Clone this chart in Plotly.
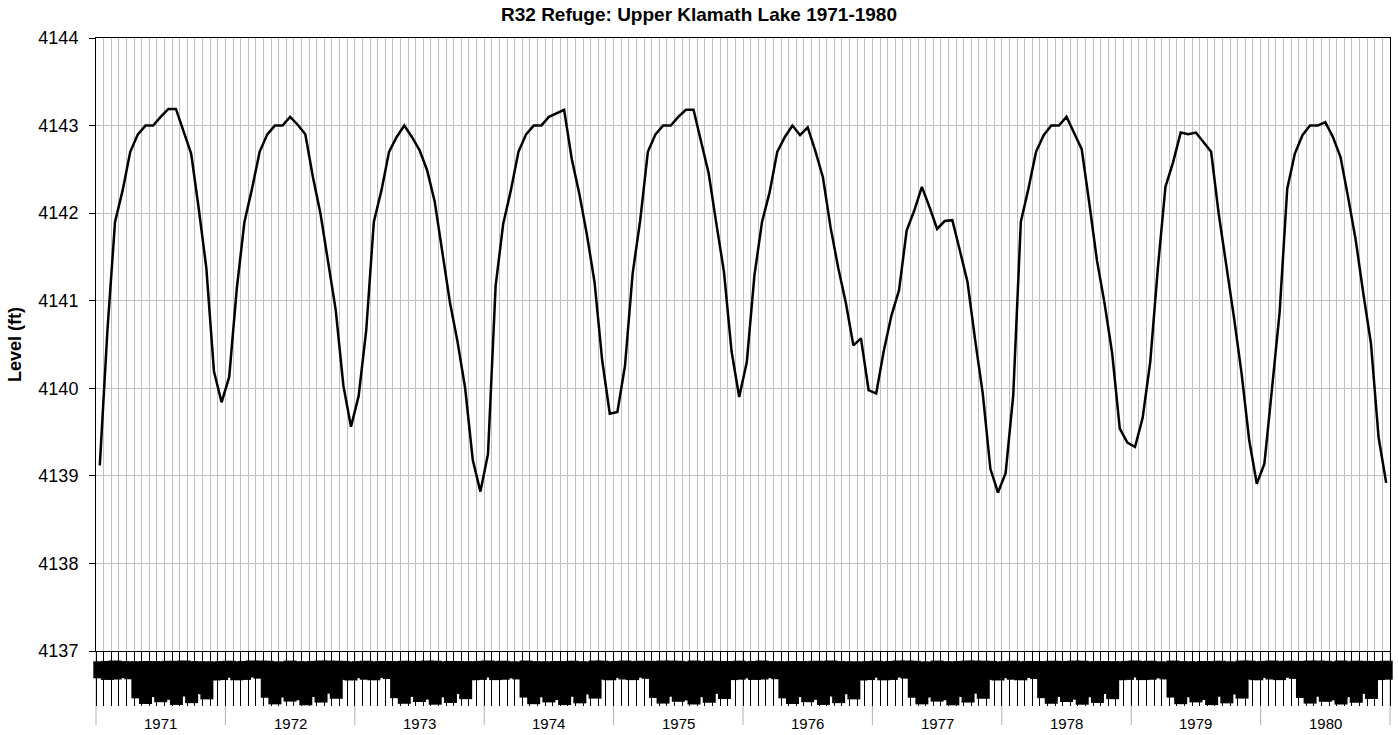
'''
    Upper Klamath Lake level, R32 refuge run, water years 1971-1980.
    Line chart with an Excel-style two level category axis.
'''

import plotly.graph_objects as go

FONT = 'Liberation Sans, Arial, sans-serif'

# model time steps of a water year (Oct - Sep)
steps = ['Oct', 'Nov', 'Dec', 'Jan', 'Feb',
         'Mar1-15', 'Mar16-31', 'Apr1-15', 'Apr16-30', 'May1-15', 'May16-31',
         'Jun1-15', 'Jun16-30', 'Jul1-15', 'Jul16-31', 'Aug', 'Sep']

years = ['1971', '1972', '1973', '1974', '1975',
         '1976', '1977', '1978', '1979', '1980']

# lake level (ft) per time step
wy1971 = [4139.12, 4140.66, 4141.90, 4142.26, 4142.70, 4142.90, 4143.00, 4143.00, 4143.10,
          4143.19, 4143.19, 4142.93, 4142.68, 4142.05, 4141.37, 4140.19, 4139.84]
wy1972 = [4140.13, 4141.14, 4141.90, 4142.28, 4142.70, 4142.90, 4143.00, 4143.00, 4143.10,
          4143.01, 4142.90, 4142.41, 4141.99, 4141.46, 4140.89, 4140.03, 4139.56]
wy1973 = [4139.91, 4140.66, 4141.90, 4142.26, 4142.70, 4142.87, 4143.00, 4142.87, 4142.72,
          4142.49, 4142.13, 4141.57, 4140.98, 4140.53, 4140.00, 4139.18, 4138.82]
wy1974 = [4139.25, 4141.17, 4141.88, 4142.26, 4142.70, 4142.90, 4143.00, 4143.00, 4143.10,
          4143.14, 4143.18, 4142.62, 4142.22, 4141.75, 4141.21, 4140.32, 4139.71]
wy1975 = [4139.73, 4140.26, 4141.31, 4141.92, 4142.70, 4142.90, 4143.00, 4143.00, 4143.10,
          4143.18, 4143.18, 4142.83, 4142.45, 4141.88, 4141.33, 4140.42, 4139.90]
wy1976 = [4140.30, 4141.29, 4141.90, 4142.24, 4142.70, 4142.87, 4143.00, 4142.89, 4142.98,
          4142.71, 4142.41, 4141.84, 4141.38, 4140.98, 4140.49, 4140.57, 4139.98]
wy1977 = [4139.94, 4140.43, 4140.83, 4141.12, 4141.80, 4142.03, 4142.30, 4142.07, 4141.82,
          4141.91, 4141.92, 4141.57, 4141.21, 4140.55, 4139.94, 4139.08, 4138.81]
wy1978 = [4139.03, 4139.92, 4141.90, 4142.28, 4142.70, 4142.89, 4143.00, 4143.00, 4143.10,
          4142.92, 4142.73, 4142.11, 4141.46, 4140.97, 4140.40, 4139.54, 4139.38]
wy1979 = [4139.33, 4139.66, 4140.30, 4141.37, 4142.30, 4142.58, 4142.92, 4142.90, 4142.92,
          4142.81, 4142.70, 4141.99, 4141.42, 4140.81, 4140.17, 4139.41, 4138.91]
wy1980 = [4139.14, 4140.00, 4140.87, 4142.28, 4142.68, 4142.89, 4143.00, 4143.00, 4143.04,
          4142.87, 4142.64, 4142.18, 4141.69, 4141.08, 4140.51, 4139.44, 4138.92]

levels = (wy1971 + wy1972 + wy1973 + wy1974 + wy1975
          + wy1976 + wy1977 + wy1978 + wy1979 + wy1980)
categories = [s + ' ' + y for y in years for s in steps]

y_ticks = [4137, 4138, 4139, 4140, 4141, 4142, 4143, 4144]


fig = go.Figure()
fig.add_trace(go.Scatter(
    x=categories,
    y=levels,
    mode='lines',
    line=dict(color='black', width=2.5),
    hovertemplate='%{x}<br>%{y:.2f} ft<extra></extra>'
))

# inner level of the category axis: rotated step labels, packed so tight
# that they merge into one black block, as in the original chart
annotations = []
for cat, step in zip(categories, steps * len(years)):
    annotations.append(dict(
        x=cat, xref='x', y=0, yref='paper', yanchor='top', yshift=-10,
        text=step, textangle=-90, showarrow=False,
        bgcolor='black', borderpad=1, borderwidth=0,
        font=dict(family=FONT, size=9.5, color='black')
    ))

# outer level: the water year under the middle step of each group
mid = len(steps) // 2
for k, yr in enumerate(years):
    annotations.append(dict(
        x=categories[k * len(steps) + mid], xref='x', y=0, yref='paper',
        yanchor='middle', yshift=-72, text=yr, showarrow=False,
        font=dict(family=FONT, size=15, color='black')
    ))

# year separators hanging below the axis
shapes = []
for k in range(1, len(years)):
    b = k * len(steps) - 0.5
    shapes.append(dict(type='line', xref='x', x0=b, x1=b,
                       yref='paper', ysizemode='pixel', yanchor=0, y0=0, y1=-74,
                       line=dict(color='black', width=1)))
for edge in (0, 1):
    shapes.append(dict(type='line', xref='x domain', x0=edge, x1=edge,
                       yref='paper', ysizemode='pixel', yanchor=0, y0=0, y1=-74,
                       line=dict(color='black', width=1)))

fig.update_layout(
    template='simple_white',
    width=1398, height=735,
    margin=dict(l=96, r=8, t=38, b=84),
    paper_bgcolor='white', plot_bgcolor='white',
    showlegend=False,
    dragmode=False,
    font=dict(family=FONT, color='black'),
    title=dict(text='<b>R32 Refuge: Upper Klamath Lake 1971-1980</b>',
               x=0.5, xref='container', xanchor='center',
               y=0.98, yanchor='middle', font=dict(size=19, color='black')),
    annotations=annotations,
    shapes=shapes
)

fig.update_xaxes(
    type='category',
    range=[-0.5, len(categories) - 0.5],
    tickmode='linear', tick0=0, dtick=1,
    tickson='boundaries',
    ticks='outside', ticklen=54, tickwidth=1, tickcolor='black',
    showticklabels=False,
    showgrid=True, gridcolor='#c0c0c0', gridwidth=1,
    showline=True, linecolor='black', linewidth=1, mirror=True,
    zeroline=False
)

fig.update_yaxes(
    range=[4137, 4144],
    tickmode='array', tickvals=y_ticks, ticktext=[str(v) for v in y_ticks],
    ticks='outside', ticklen=6, tickcolor='black',
    ticklabelstandoff=7,
    tickfont=dict(family=FONT, size=18, color='black'),
    showgrid=True, gridcolor='#c0c0c0', gridwidth=1,
    showline=True, linecolor='black', linewidth=1, mirror=True,
    zeroline=False,
    title=dict(text='<b>Level (ft)</b>', standoff=12,
               font=dict(family=FONT, size=18, color='black'))
)

# drop the default page margin so the figure sits at the window's corner
fig.write_html('out.html',
               config={'displayModeBar': False},
               post_script="document.body.style.margin='0';"
                           "document.body.style.overflow='hidden';")
